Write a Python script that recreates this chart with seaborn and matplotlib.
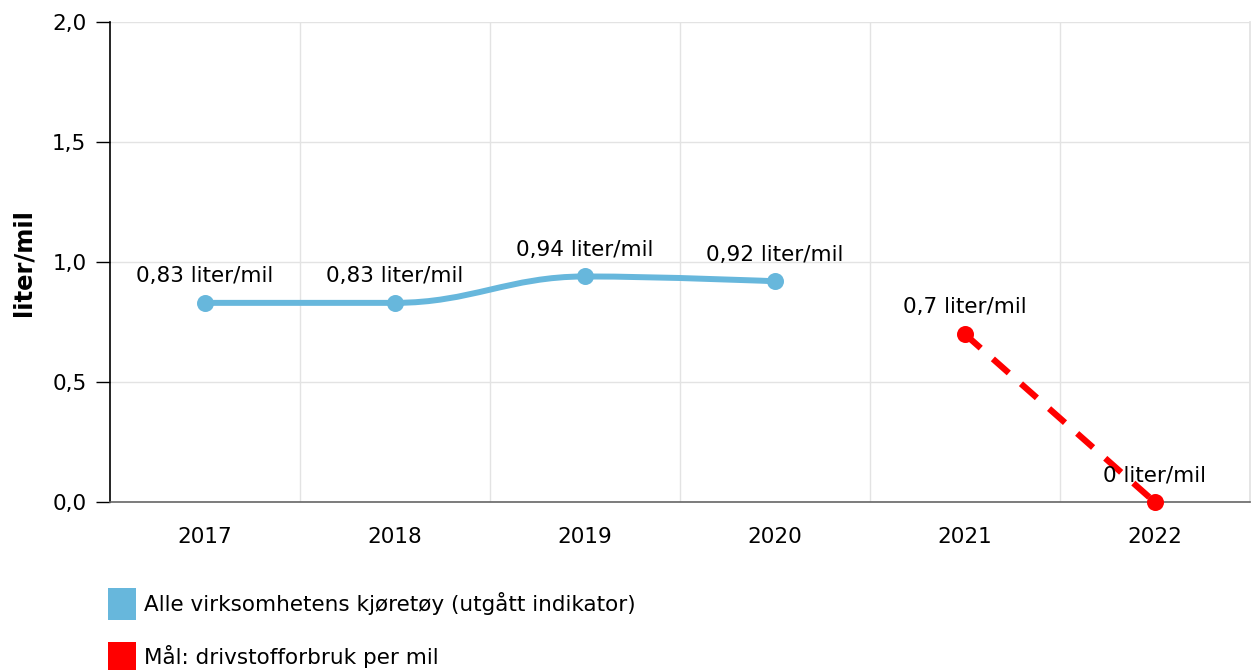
import numpy as np
import pandas as pd
import matplotlib
matplotlib.use('Agg')
import matplotlib.pyplot as plt
from matplotlib.path import Path
from matplotlib.patches import PathPatch, Patch
from matplotlib.ticker import FuncFormatter, FixedLocator
import seaborn as sns

#DATA
####################################################################################################
years = ['2017', '2018', '2019', '2020', '2021', '2022']
actual_years = ['2017', '2018', '2019', '2020']
actual_values = [0.83, 0.83, 0.94, 0.92]
target_years = ['2021', '2022']
target_values = [0.7, 0.0]
actual_name = 'Alle virksomhetens kjøretøy (utgått indikator)'
target_name = 'Mål: drivstofforbruk per mil'
unit = 'liter/mil'

blue = '#67b7dc'
red = '#ff0000'

df_actual = pd.DataFrame({'year': actual_years, 'value': actual_values})
df_actual['x'] = df_actual['year'].map(years.index)
df_target = pd.DataFrame({'year': target_years, 'value': target_values})
df_target['x'] = df_target['year'].map(years.index)

#Spline path (highcharts-like smoothing) through the points
def spline_path(xs, ys, smoothing=1.5):
    n = len(xs)
    denom = smoothing + 1
    left = [(xs[i], ys[i]) for i in range(n)]
    right = [(xs[i], ys[i]) for i in range(n)]
    for i in range(1, n - 1):
        lx = (smoothing * xs[i] + xs[i - 1]) / denom
        ly = (smoothing * ys[i] + ys[i - 1]) / denom
        rx = (smoothing * xs[i] + xs[i + 1]) / denom
        ry = (smoothing * ys[i] + ys[i + 1]) / denom
        corr = ((ry - ly) * (rx - xs[i])) / (rx - lx) + ys[i] - ry
        ly += corr
        ry += corr
        if ly > ys[i - 1] and ly > ys[i]:
            ly = max(ys[i - 1], ys[i]); ry = 2 * ys[i] - ly
        elif ly < ys[i - 1] and ly < ys[i]:
            ly = min(ys[i - 1], ys[i]); ry = 2 * ys[i] - ly
        if ry > ys[i + 1] and ry > ys[i]:
            ry = max(ys[i + 1], ys[i]); ly = 2 * ys[i] - ry
        elif ry < ys[i + 1] and ry < ys[i]:
            ry = min(ys[i + 1], ys[i]); ly = 2 * ys[i] - ry
        left[i] = (lx, ly)
        right[i] = (rx, ry)
    verts = [(xs[0], ys[0])]
    codes = [Path.MOVETO]
    for i in range(1, n):
        verts += [right[i - 1], left[i], (xs[i], ys[i])]
        codes += [Path.CURVE4] * 3
    return Path(verts, codes)

#PLOT
####################################################################################################
sns.set_theme(style='white')
plt.rcParams['font.family'] = ['DejaVu Sans']
plt.rcParams['text.color'] = 'black'
fs = 15.5

fig = plt.figure(figsize=(12.56, 6.7), dpi=100)
ax = fig.add_axes([0.0876, 0.2507, 0.9074, 0.7163])

ax.add_patch(PathPatch(spline_path(df_actual['x'].tolist(), df_actual['value'].tolist()),
                       facecolor='none', edgecolor=blue, lw=4.3, capstyle='round', zorder=3))
sns.scatterplot(data=df_actual, x='x', y='value', color=blue, s=150, linewidth=0, zorder=4, ax=ax)

sns.lineplot(data=df_target, x='x', y='value', color=red, lw=4.5, ax=ax, zorder=3)
ax.lines[-1].set_dashes((3.4, 2.6))
sns.scatterplot(data=df_target, x='x', y='value', color=red, s=150, linewidth=0, zorder=4, ax=ax,
                clip_on=False)

#Data labels
for d in (df_actual, df_target):
    for _, r in d.iterrows():
        txt = f"{r['value']:g}".replace('.', ',') + ' ' + unit
        ax.annotate(txt, (r['x'], r['value']), xytext=(0, 12), textcoords='offset points',
                    ha='center', va='bottom', fontsize=fs, color='black', zorder=6)

ax.set_xlim(-0.5, len(years) - 0.5)
ax.set_ylim(0, 2)
ax.set_xticks(range(len(years)))
ax.set_xticklabels(years)
ax.xaxis.set_minor_locator(FixedLocator(np.arange(0.5, len(years), 1)))
ax.set_yticks([0, 0.5, 1.0, 1.5, 2.0])
ax.yaxis.set_major_formatter(FuncFormatter(lambda v, p: f"{v:.1f}".replace('.', ',')))
ax.grid(axis='y', which='major', color='#e3e3e3', lw=1)
ax.grid(axis='x', which='minor', color='#e3e3e3', lw=1)
ax.grid(axis='x', which='major', visible=False)

ax.tick_params(axis='x', which='major', length=8, width=1, color='#999999', labelsize=fs,
               labelcolor='black', pad=10)
ax.tick_params(axis='x', which='minor', length=0)
ax.tick_params(axis='y', length=10, width=1, color='black', labelsize=fs, labelcolor='black',
               pad=7, left=True)

ax.spines['top'].set_visible(False)
ax.spines['right'].set_color('#e3e3e3')
ax.spines['left'].set_color('black')
ax.spines['left'].set_linewidth(1.2)
ax.spines['bottom'].set_color('#666666')
ax.spines['bottom'].set_linewidth(1.2)

ax.set_xlabel('')
ax.set_ylabel(unit, fontsize=17.5, fontweight='bold', color='black', labelpad=12)

handles = [Patch(facecolor=blue, edgecolor='none'), Patch(facecolor=red, edgecolor='none')]
fig.legend(handles, [actual_name, target_name], loc='upper left', bbox_to_anchor=(0.086, 0.122),
           frameon=False, fontsize=fs, handlelength=1.3, handleheight=1.9, handletextpad=0.35,
           labelspacing=1.0, borderaxespad=0, borderpad=0)

plt.savefig('out.png', dpi=100)
